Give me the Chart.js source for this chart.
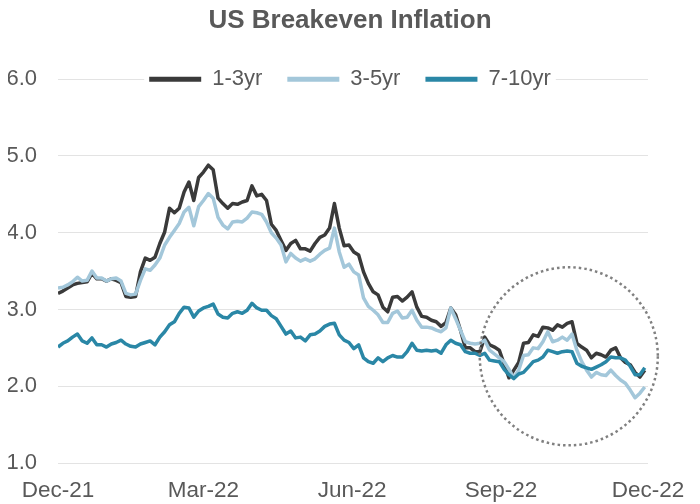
<!DOCTYPE html>
<html>
<head>
<meta charset="utf-8">
<title>US Breakeven Inflation</title>
<script src="https://cdn.jsdelivr.net/npm/chart.js@4.4.1/dist/chart.umd.min.js"></script>
<style>
  html, body { margin: 0; padding: 0; background: #fff; }
</style>
</head>
<body>
<canvas id="chart" width="700" height="504"></canvas>
<script>
// Days since 1 Dec 2021 for each sample
const days = [
  0, 3, 6, 9, 12, 15, 18, 21, 24, 27, 30, 33, 36, 39, 42, 45, 48, 51, 54, 57,
  60, 63, 66, 69, 72, 75, 78, 81, 84, 87, 90, 93, 96, 99, 102, 105, 108, 111, 114, 117,
  120, 123, 126, 129, 132, 135, 138, 141, 144, 147, 150, 153, 156, 159, 162, 165, 168, 171, 174, 177,
  180, 183, 186, 189, 192, 195, 198, 201, 204, 207, 210, 213, 216, 219, 222, 225, 228, 231, 234, 237,
  240, 243, 246, 249, 252, 255, 258, 261, 264, 267, 270, 273, 276, 279, 282, 285, 288, 291, 294, 297,
  300, 303, 306, 309, 312, 315, 318, 321, 324, 327, 330, 333, 336, 339, 342, 345, 348, 351, 354, 357,
  360, 363
];

const be1to3 = [
  3.21, 3.24, 3.28, 3.32, 3.34, 3.35, 3.36, 3.47, 3.40, 3.40,
  3.37, 3.40, 3.38, 3.35, 3.17, 3.16, 3.17, 3.49, 3.67, 3.64,
  3.68, 3.86, 4.01, 4.32, 4.26, 4.32, 4.53, 4.66, 4.42, 4.72,
  4.79, 4.88, 4.82, 4.45, 4.38, 4.32, 4.38, 4.37, 4.40, 4.42,
  4.61, 4.48, 4.50, 4.42, 4.11, 4.03, 3.90, 3.77, 3.86, 3.90,
  3.79, 3.79, 3.76, 3.86, 3.94, 3.97, 4.06, 4.38, 4.06, 3.83,
  3.84, 3.75, 3.71, 3.49, 3.34, 3.23, 3.19, 3.03, 2.97, 3.16,
  3.17, 3.11, 3.16, 3.23, 3.03, 2.91, 2.90, 2.86, 2.84, 2.78,
  2.83, 3.02, 2.93, 2.73, 2.50, 2.50, 2.45, 2.45, 2.64, 2.54,
  2.51, 2.47, 2.29, 2.11, 2.21, 2.31, 2.56, 2.57, 2.67, 2.65,
  2.77, 2.76, 2.73, 2.80, 2.77, 2.82, 2.84, 2.56, 2.51, 2.47,
  2.37, 2.43, 2.41, 2.38, 2.47, 2.50, 2.37, 2.31, 2.28, 2.18,
  2.12, 2.21
];

const be3to5 = [
  3.28, 3.29, 3.32, 3.36, 3.42, 3.37, 3.38, 3.50, 3.41, 3.41,
  3.37, 3.40, 3.41, 3.37, 3.21, 3.19, 3.20, 3.38, 3.53, 3.51,
  3.58, 3.67, 3.84, 3.94, 4.03, 4.12, 4.27, 4.33, 4.09, 4.34,
  4.42, 4.51, 4.45, 4.20, 4.10, 4.05, 4.14, 4.15, 4.14, 4.19,
  4.27, 4.26, 4.24, 4.14, 4.00, 3.93, 3.84, 3.62, 3.73, 3.67,
  3.63, 3.66, 3.63, 3.66, 3.72, 3.77, 3.80, 4.06, 3.75, 3.55,
  3.59, 3.49, 3.45, 3.15, 3.04, 2.99, 2.93, 2.83, 2.83, 2.95,
  2.98, 2.89, 2.90, 2.99, 2.86, 2.77, 2.77, 2.76, 2.73, 2.71,
  2.76, 3.02, 2.88, 2.73, 2.58, 2.56, 2.55, 2.56, 2.60, 2.47,
  2.42, 2.37, 2.32, 2.22, 2.11, 2.21, 2.40, 2.41, 2.50, 2.49,
  2.58, 2.71, 2.58, 2.60, 2.64, 2.60, 2.68, 2.47, 2.32, 2.21,
  2.12, 2.18, 2.15, 2.14, 2.21, 2.14, 2.08, 2.04, 1.95, 1.85,
  1.91, 1.99
];

const be7to10 = [
  2.51, 2.56, 2.59, 2.64, 2.68, 2.59, 2.56, 2.63, 2.54, 2.54,
  2.51, 2.55, 2.57, 2.60, 2.55, 2.52, 2.51, 2.55, 2.57, 2.59,
  2.54, 2.64, 2.71, 2.80, 2.84, 2.95, 3.03, 3.02, 2.90, 2.98,
  3.02, 3.04, 3.07, 2.94, 2.90, 2.89, 2.95, 2.97, 2.95, 2.99,
  3.08, 3.02, 2.99, 2.99, 2.92, 2.88, 2.78, 2.68, 2.72, 2.63,
  2.64, 2.59, 2.67, 2.68, 2.72, 2.78, 2.81, 2.82, 2.67, 2.60,
  2.57, 2.49, 2.54, 2.37, 2.32, 2.30, 2.37, 2.32, 2.37, 2.40,
  2.38, 2.38, 2.45, 2.56, 2.47, 2.46, 2.47, 2.46, 2.47, 2.43,
  2.54, 2.60, 2.56, 2.54, 2.45, 2.43, 2.43, 2.40, 2.43, 2.34,
  2.33, 2.32, 2.22, 2.15, 2.10, 2.16, 2.18, 2.25, 2.32, 2.34,
  2.38, 2.47, 2.45, 2.43, 2.45, 2.46, 2.45, 2.30, 2.26, 2.24,
  2.22, 2.25, 2.28, 2.32, 2.38, 2.37, 2.37, 2.34, 2.26, 2.15,
  2.15, 2.24
];

const seriesNames = ['1-3yr', '3-5yr', '7-10yr'];
const tickDays = [0, 90, 182, 274, 365];
const tickLabels = ['Dec-21', 'Mar-22', 'Jun-22', 'Sep-22', 'Dec-22'];

// Dotted highlight circle: centre (day, value) and radius in value units
const circleCenter = [316, 2.39];
const circleRadius = 1.16;

const FONT = "'Liberation Sans', Arial, sans-serif";
const TEXT = '#595959';
const LEGEND_FONT = 22;
const LEGEND_PAD = 25;

const toPoints = (vals) => days.map((d, i) => ({ x: d, y: vals[i] }));

// Puts the legend on top of the 6.0 gridline and draws the circle
const overlay = {
    id: 'overlay',
    afterLayout(chart) {
        const lg = chart.legend;
        lg.top = chart.chartArea.top - LEGEND_PAD - LEGEND_FONT / 2;
        lg.height = 80;
        lg.bottom = lg.top + lg.height;
    },
    beforeDatasetsDraw(chart) {
        const boxes = chart.legend.legendHitBoxes;
        if (!boxes || !boxes.length) return;
        const ctx = chart.ctx;
        const first = boxes[0];
        const last = boxes[boxes.length - 1];
        ctx.save();
        ctx.fillStyle = '#ffffff';
        ctx.fillRect(first.left - 5, first.top - 2, last.left + last.width - first.left + 10, first.height + 4);
        ctx.restore();
        chart.legend.draw();
    },
    afterDatasetsDraw(chart) {
        const { ctx, scales: { x, y } } = chart;
        const cx = x.getPixelForValue(circleCenter[0]);
        const cy = y.getPixelForValue(circleCenter[1]);
        const r = y.getPixelForValue(circleCenter[1] - circleRadius) - cy;
        ctx.save();
        ctx.strokeStyle = '#808080';
        ctx.lineWidth = 2.5;
        ctx.setLineDash([2.5, 3]);
        ctx.beginPath();
        ctx.arc(cx, cy, r, 0, Math.PI * 2);
        ctx.stroke();
        ctx.restore();
    }
};

const colors = ['#3a3a3a', '#a3c7da', '#2a87a6'];

new Chart(document.getElementById('chart'), {
    type: 'line',
    data: {
        datasets: [be1to3, be3to5, be7to10].map((vals, i) => ({
            label: seriesNames[i],
            data: toPoints(vals),
            borderColor: colors[i],
            backgroundColor: colors[i],
            borderWidth: 3.5,
            borderJoinStyle: 'round',
            pointRadius: 0,
            tension: 0,
            fill: false,
            order: 3 - i
        }))
    },
    options: {
        responsive: false,
        animation: false,
        devicePixelRatio: 1,
        layout: { padding: { left: 8, right: 8, top: 0, bottom: 0 } },
        plugins: {
            title: {
                display: true,
                text: 'US Breakeven Inflation',
                color: TEXT,
                font: { family: FONT, size: 26, weight: 'bold' },
                padding: { top: 5, bottom: 42 }
            },
            legend: {
                position: 'top',
                maxHeight: 1,
                labels: {
                    color: TEXT,
                    font: { family: FONT, size: LEGEND_FONT },
                    boxWidth: 52,
                    boxHeight: 5,
                    padding: LEGEND_PAD,
                    generateLabels: (chart) => Chart.defaults.plugins.legend.labels.generateLabels(chart)
                        .sort((a, b) => a.datasetIndex - b.datasetIndex)
                        .map(l => ({ ...l, lineWidth: 0, fillStyle: l.strokeStyle }))
                }
            },
            tooltip: { enabled: false }
        },
        scales: {
            x: {
                type: 'linear',
                min: 0,
                max: 365,
                grid: { display: false, drawTicks: false },
                border: { display: false },
                afterBuildTicks: (s) => { s.ticks = tickDays.map(v => ({ value: v })); },
                afterFit: (s) => { s.height = 41; s.paddingRight = 52; },
                ticks: {
                    autoSkip: false,
                    maxRotation: 0,
                    padding: 14,
                    color: TEXT,
                    font: { family: FONT, size: 22.5 },
                    callback: (v) => tickLabels[tickDays.indexOf(v)]
                }
            },
            y: {
                min: 1,
                max: 6,
                afterFit: (s) => { s.width = 50; },
                grid: { color: '#e3e3e3', lineWidth: 1, drawTicks: false },
                border: { display: false },
                ticks: {
                    stepSize: 1,
                    padding: 21,
                    color: TEXT,
                    font: { family: FONT, size: 22 },
                    callback: (v) => v.toFixed(1)
                }
            }
        }
    },
    plugins: [overlay]
});
</script>
</body>
</html>
